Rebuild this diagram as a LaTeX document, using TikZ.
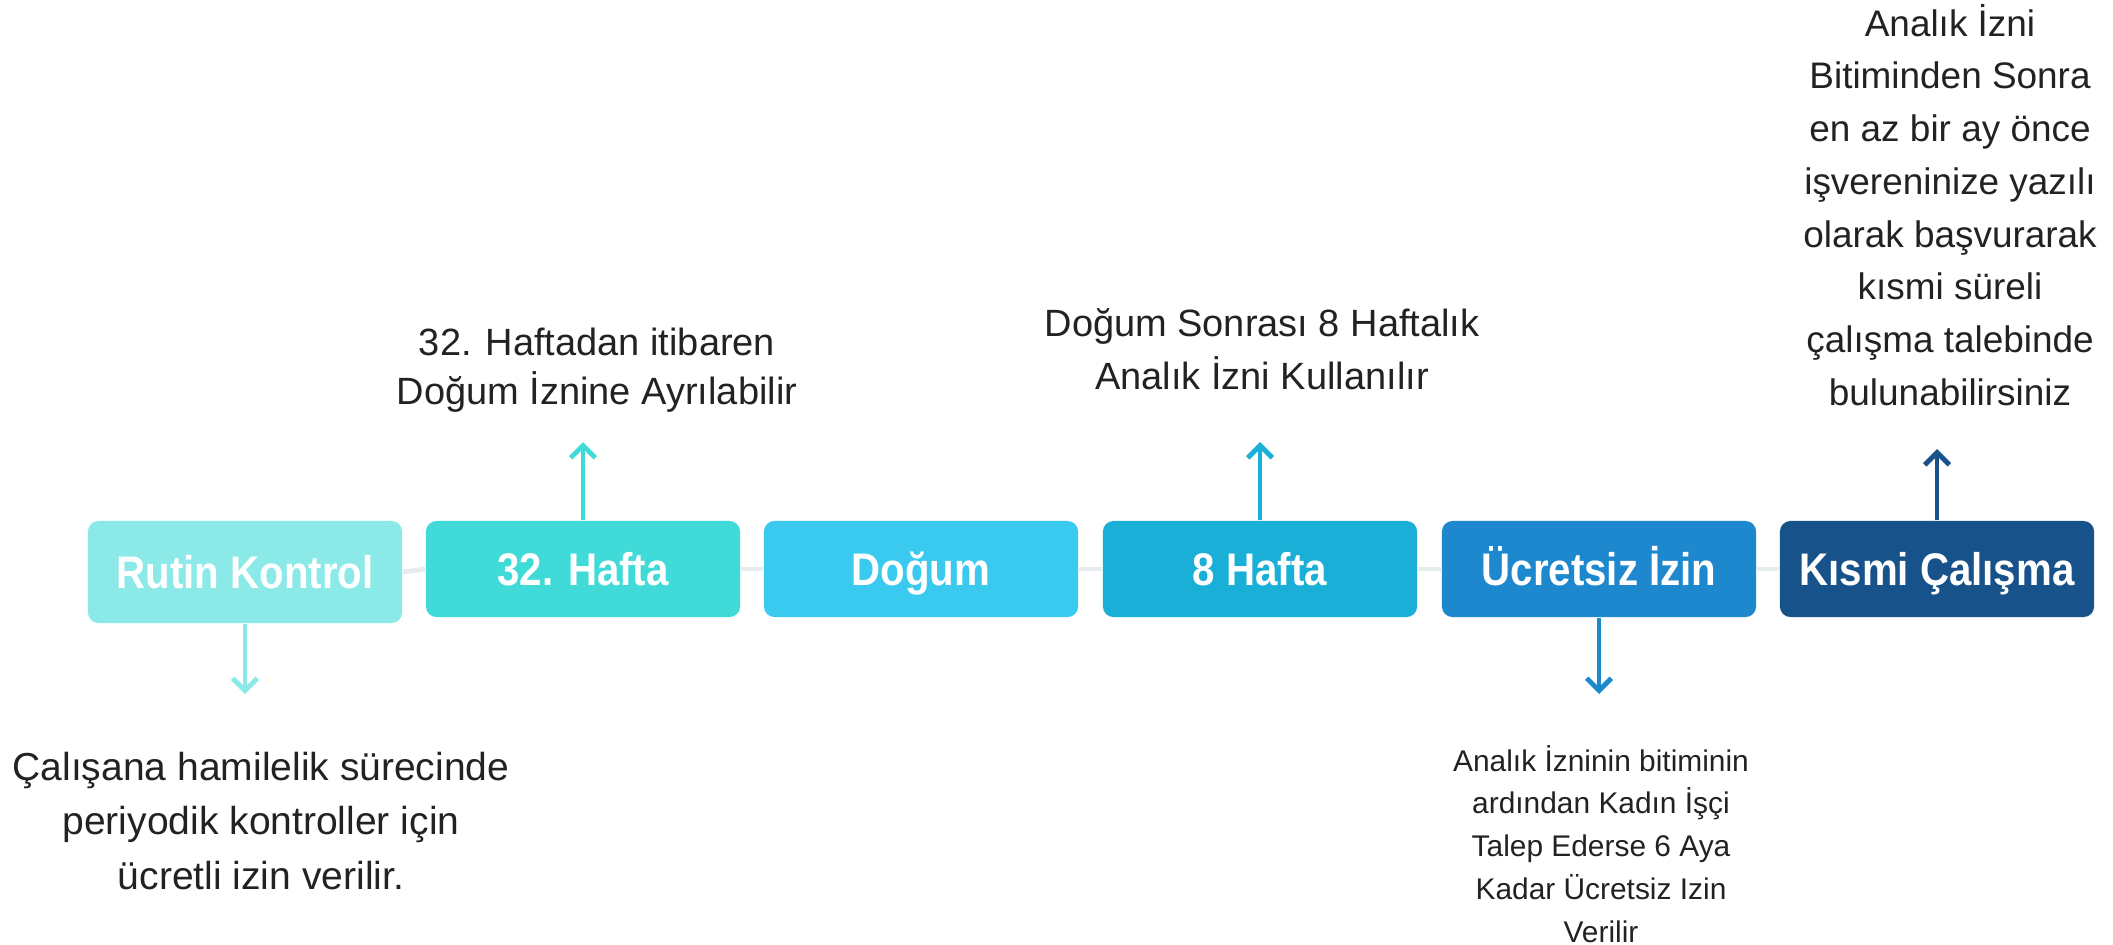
\documentclass[tikz,border=0pt]{standalone}
\usepackage{fontspec}
\setmainfont{Liberation Sans}
\newfontfamily\boxfont[FakeStretch=0.88]{Liberation Sans}
\usetikzlibrary{arrows.meta}
\definecolor{rutinc}{HTML}{8BEAE8}
\definecolor{haftaotuzc}{HTML}{40DBD8}
\definecolor{dogumc}{HTML}{3AC9EF}
\definecolor{haftasekizc}{HTML}{1AAFD6}
\definecolor{ucretsizc}{HTML}{1E88CF}
\definecolor{kismic}{HTML}{17528A}
\definecolor{linec}{HTML}{E6EBEE}
\definecolor{notec}{HTML}{222222}

\begin{document}
\begin{tikzpicture}[x=0.01cm,y=-0.01cm,>={Straight Barb[length=3.5pt,width=7pt]},
  stepbox/.style={rounded corners=3pt,minimum width=3.14cm,minimum height=0.96cm,inner sep=0pt,
    text height=9.4pt,text depth=0pt,
    text=white,font=\boxfont\bfseries\fontsize{13}{15}\selectfont},
  note/.style={align=center,inner sep=0pt,text=notec},
  pointer/.style={->,line width=1.4pt}]
\useasboundingbox (0,0) rectangle (2113,944);
% timeline boxes
\node[stepbox,fill=rutinc,minimum height=1.02cm] (rutin) at (245,572) {Rutin Kontrol};
\node[stepbox,fill=haftaotuzc] (hafta32) at (583,569) {32. Hafta};
\node[stepbox,fill=dogumc] (dogum) at (921,569) {Doğum};
\node[stepbox,fill=haftasekizc] (hafta8) at (1260,569) {8 Hafta};
\node[stepbox,fill=ucretsizc] (ucretsiz) at (1599,569) {Ücretsiz İzin};
\node[stepbox,fill=kismic] (kismi) at (1937,569) {Kısmi Çalışma};
\draw[linec,line width=1.4pt] (rutin.east) -- (hafta32.west);
\draw[linec,line width=1.4pt] (hafta32.east) -- (dogum.west);
\draw[linec,line width=1.4pt] (dogum.east) -- (hafta8.west);
\draw[linec,line width=1.4pt] (hafta8.east) -- (ucretsiz.west);
\draw[linec,line width=1.4pt] (ucretsiz.east) -- (kismi.west);
% notes
\node[note,font=\fontsize{11.1}{15.4}\selectfont] (rutinnote) at (261,821) {Çalışana hamilelik sürecinde\\periyodik kontroller için\\ücretli izin verilir.};
\node[note,font=\fontsize{10.8}{13.9}\selectfont] (hafta32note) at (597,370) {32. Haftadan itibaren\\Doğum İznine Ayrılabilir};
\node[note,font=\fontsize{10.8}{15.2}\selectfont] (hafta8note) at (1262,349) {Doğum Sonrası 8 Haftalık\\Analık İzni Kullanılır};
\node[note,font=\fontsize{8.5}{12.2}\selectfont] (ucretsiznote) at (1601,844) {Analık İzninin bitiminin\\ardından Kadın İşçi\\Talep Ederse 6 Aya\\Kadar Ücretsiz Izin\\Verilir};
\node[note,font=\fontsize{10.5}{15}\selectfont] (kisminote) at (1950,205) {Analık İzni\\Bitiminden Sonra\\en az bir ay önce\\işvereninize yazılı\\olarak başvurarak\\kısmi süreli\\çalışma talebinde\\bulunabilirsiniz};
% pointers
\coordinate (rutintip) at (245,694);
\coordinate (hafta32tip) at (583,442);
\coordinate (hafta8tip) at (1260,442);
\coordinate (ucretsiztip) at (1599,694);
\coordinate (kismitip) at (1937,449);
\draw[pointer,rutinc] (rutin.south) -- (rutintip);
\draw[pointer,haftaotuzc] (hafta32.north) -- (hafta32tip);
\draw[pointer,haftasekizc] (hafta8.north) -- (hafta8tip);
\draw[pointer,ucretsizc] (ucretsiz.south) -- (ucretsiztip);
\draw[pointer,kismic] (kismi.north) -- (kismitip);
\end{tikzpicture}
\end{document}
